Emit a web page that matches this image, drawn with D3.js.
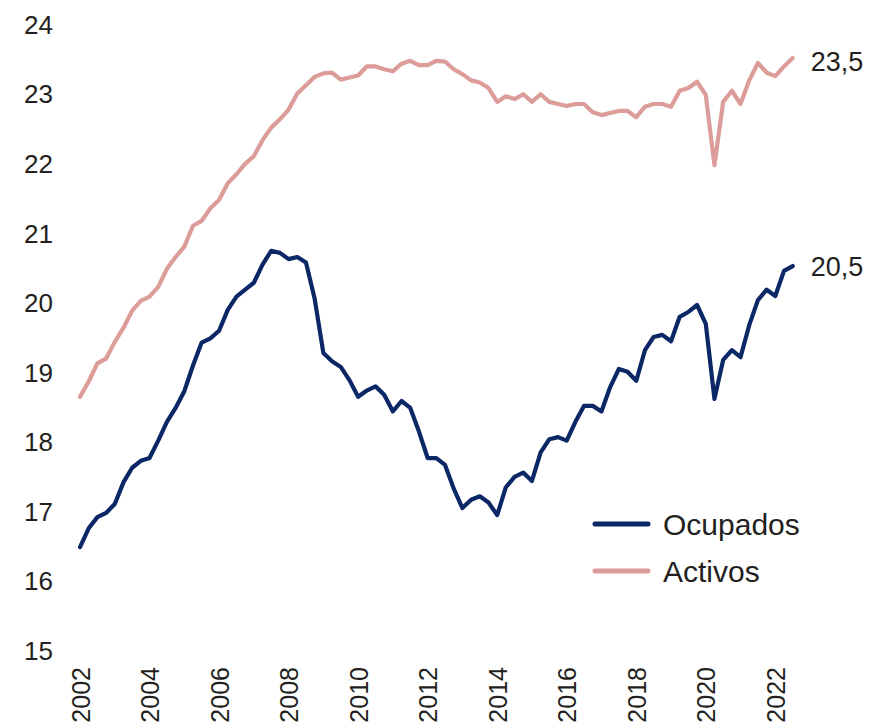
<!DOCTYPE html>
<html>
<head>
<meta charset="utf-8">
<script src="https://cdn.jsdelivr.net/npm/d3@7"></script>
<style>
  html, body { margin: 0; padding: 0; background: #fff; }
  svg { display: block; }
  text { font-family: "Liberation Sans", Arial, Helvetica, sans-serif; fill: #231f20; }
</style>
</head>
<body>
<svg id="chart" width="871" height="725"></svg>
<script>
// Quarterly series, 2002Q1 .. 2022Q3 (millions)
const startYear = 2002;
const ocupados = [
  16.48, 16.75, 16.91, 16.97,
  17.10, 17.41, 17.62, 17.72,
  17.76, 18.01, 18.28, 18.48,
  18.72, 19.09, 19.42, 19.48,
  19.59, 19.89, 20.08, 20.18,
  20.28, 20.54, 20.74, 20.71,
  20.62, 20.65, 20.57, 20.05,
  19.27, 19.15, 19.07, 18.88,
  18.64, 18.73, 18.79, 18.67,
  18.43, 18.58, 18.48, 18.14,
  17.76, 17.76, 17.66, 17.32,
  17.04, 17.16, 17.21, 17.12,
  16.94, 17.34, 17.49, 17.55,
  17.43, 17.84, 18.03, 18.06,
  18.01, 18.28, 18.51, 18.51,
  18.43, 18.78, 19.04, 19.00,
  18.87, 19.31, 19.50, 19.53,
  19.44, 19.79, 19.86, 19.96,
  19.69, 18.61, 19.17, 19.31,
  19.21, 19.67, 20.03, 20.18,
  20.09, 20.45, 20.52
];
const activos = [
  18.64, 18.86, 19.12, 19.19,
  19.43, 19.63, 19.88, 20.02,
  20.08, 20.22, 20.48, 20.65,
  20.80, 21.10, 21.17, 21.35,
  21.47, 21.71, 21.84, 21.99,
  22.10, 22.33, 22.51, 22.63,
  22.77, 23.00, 23.12, 23.24,
  23.29, 23.30, 23.20, 23.23,
  23.26, 23.39, 23.39, 23.35,
  23.32, 23.43, 23.47, 23.41,
  23.41, 23.47, 23.46, 23.35,
  23.28, 23.19, 23.16, 23.08,
  22.88, 22.96, 22.92, 22.99,
  22.88, 22.99, 22.88, 22.85,
  22.82, 22.85, 22.85, 22.73,
  22.69, 22.72, 22.75, 22.75,
  22.66, 22.81, 22.85, 22.85,
  22.81, 23.04, 23.08, 23.17,
  22.98, 21.97, 22.88, 23.04,
  22.85, 23.19, 23.44, 23.30,
  23.25, 23.39, 23.51
];
const yTicks = [15, 16, 17, 18, 19, 20, 21, 22, 23, 24];
const xTicks = [2002, 2004, 2006, 2008, 2010, 2012, 2014, 2016, 2018, 2020, 2022];
const seriesNames = ["Ocupados", "Activos"];
const endLabels = ["20,5", "23,5"];
const colors = ["#0b2765", "#dc9c9a"];

const svg = d3.select("#chart");
const x = d3.scaleLinear().domain([2002, 2022]).range([80, 775.3]);
const y = d3.scaleLinear().domain([15, 24]).range([650, 24]);

const series = [ocupados, activos].map((vals, k) => ({
  name: seriesNames[k],
  color: colors[k],
  label: endLabels[k],
  points: vals.map((v, i) => ({ t: startYear + i * 0.25, v }))
}));

// Y axis
const yAxis = svg.append("g")
  .attr("transform", "translate(53,0)")
  .call(d3.axisLeft(y).tickValues(yTicks).tickSize(0).tickPadding(0).tickFormat(d3.format("d")));
yAxis.select(".domain").remove();
yAxis.selectAll("text")
  .style("font-size", "26px")
  .style("font-family", '"Liberation Sans", Arial, sans-serif')
  .attr("fill", "#231f20")
  .attr("dy", "0.36em");

// X axis with rotated labels
const xAxis = svg.append("g")
  .attr("transform", "translate(0,667)")
  .call(d3.axisBottom(x).tickValues(xTicks).tickSize(0).tickFormat(d3.format("d")));
xAxis.select(".domain").remove();
xAxis.selectAll("text")
  .style("font-size", "25px")
  .style("font-family", '"Liberation Sans", Arial, sans-serif')
  .attr("fill", "#231f20")
  .attr("text-anchor", "end")
  .attr("transform", "rotate(-90)")
  .attr("x", 0)
  .attr("y", 0)
  .attr("dy", "0.36em");

// Lines
const line = d3.line().x(d => x(d.t)).y(d => y(d.v));
// draw Activos first so Ocupados on top
[series[1], series[0]].forEach(s => {
  svg.append("path")
    .datum(s.points)
    .attr("fill", "none")
    .attr("stroke", s.color)
    .attr("stroke-width", 4.2)
    .attr("stroke-linejoin", "round")
    .attr("stroke-linecap", "round")
    .attr("d", line);
});

// End labels
series.forEach((s, k) => {
  const last = s.points[s.points.length - 1];
  svg.append("text")
    .attr("x", x(last.t) + 18)
    .attr("y", y(last.v) + (k === 1 ? 3 : 0))
    .attr("dy", "0.36em")
    .style("font-size", "27px")
    .text(s.label);
});

// Legend
const legend = svg.append("g").attr("transform", "translate(595,524)");
series.forEach((s, k) => {
  const g = legend.append("g").attr("transform", `translate(0,${k * 47})`);
  g.append("line")
    .attr("x1", 0).attr("x2", 53)
    .attr("y1", 0).attr("y2", 0)
    .attr("stroke", s.color)
    .attr("stroke-width", 5)
    .attr("stroke-linecap", "round");
  g.append("text")
    .attr("x", 68)
    .attr("y", 0)
    .attr("dy", "0.36em")
    .style("font-size", "30px")
    .text(s.name);
});
</script>
</body>
</html>
